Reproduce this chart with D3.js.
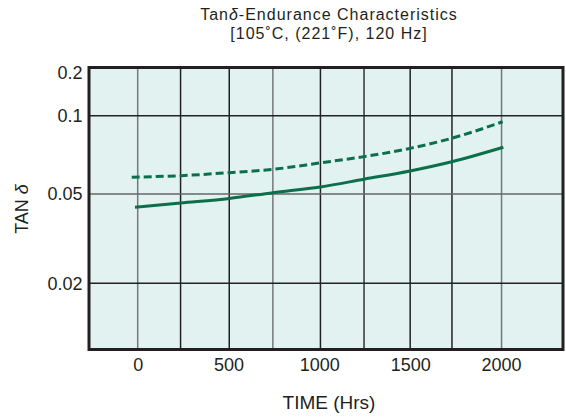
<!DOCTYPE html>
<html>
<head>
<meta charset="utf-8">
<script src="https://cdn.jsdelivr.net/npm/d3@7"></script>
<style>
  body { margin: 0; background: #fff; }
  text { font-family: "Liberation Sans", Arial, sans-serif; fill: #231f20; }
</style>
</head>
<body>
<div id="vis1"></div>
<script>
// ---------- DATA ----------
const timeTicks = [0, 500, 1000, 1500, 2000];
const tanTicks = [0.2, 0.1, 0.05, 0.02];
// grid lines as they sit in the original drawing
const timeGrid = [0, 236, 504, 744, 1006, 1246, 1500, 1730, 2003];
const tanGrid = [0.1, 0.05, 0.02];

// dashed curve (upper)
const dashedTime = [-33, 237, 504, 745, 1007, 1246, 1499, 1729, 2009];
const dashedTan = [0.0580, 0.0588, 0.0604, 0.0622, 0.0659, 0.0696, 0.0749, 0.0819, 0.0948];
// solid curve (lower)
const solidTime = [-15, 237, 504, 745, 1005, 1246, 1499, 1729, 2013];
const solidTan = [0.0436, 0.0456, 0.0478, 0.0506, 0.0532, 0.0570, 0.0613, 0.0665, 0.0756];

// ---------- FRAME ----------
const FRAME_WIDTH = 566;
const FRAME_HEIGHT = 418;
const PLOT = { left: 89, right: 563, top: 67.5, bottom: 349.5 };
const GREEN = "#0b7049";

const svg = d3.select("#vis1")
  .append("svg")
  .attr("width", FRAME_WIDTH)
  .attr("height", FRAME_HEIGHT);

// x is linear, y is a (slightly uneven) log scale as printed
const x = d3.scaleLinear()
  .domain([0, 2000])
  .range([137.7, 501]);

const y = d3.scaleLog()
  .domain([0.2, 0.1, 0.05, 0.02, 0.01])
  .range([72.5, 115.7, 194, 283.3, PLOT.bottom]);

// background
svg.append("rect")
  .attr("x", PLOT.left)
  .attr("y", PLOT.top)
  .attr("width", PLOT.right - PLOT.left)
  .attr("height", PLOT.bottom - PLOT.top)
  .attr("fill", "#e2f2f0");

// grid lines, some printed darker than others
const vGridColor = ["#777", "#222", "#222", "#777", "#222", "#333", "#222", "#222", "#777"];
const hGridColor = ["#222", "#666", "#222"];

svg.append("g")
  .selectAll("line")
  .data(timeGrid)
  .enter()
  .append("line")
    .attr("x1", d => x(d))
    .attr("x2", d => x(d))
    .attr("y1", PLOT.top)
    .attr("y2", PLOT.bottom)
    .attr("stroke", (d, i) => vGridColor[i])
    .attr("stroke-width", 1.5);

svg.append("g")
  .selectAll("line")
  .data(tanGrid)
  .enter()
  .append("line")
    .attr("x1", PLOT.left)
    .attr("x2", PLOT.right)
    .attr("y1", d => y(d))
    .attr("y2", d => y(d))
    .attr("stroke", (d, i) => hGridColor[i])
    .attr("stroke-width", 1.5);

// curves
const line = d3.line()
  .x(d => x(d[0]))
  .y(d => y(d[1]))
  .curve(d3.curveMonotoneX);

svg.append("path")
  .datum(d3.zip(dashedTime, dashedTan))
  .attr("d", line)
  .attr("fill", "none")
  .attr("stroke", GREEN)
  .attr("stroke-width", 3)
  .attr("stroke-dasharray", "8,4");

svg.append("path")
  .datum(d3.zip(solidTime, solidTan))
  .attr("d", line)
  .attr("fill", "none")
  .attr("stroke", GREEN)
  .attr("stroke-width", 3);

// frame border
svg.append("rect")
  .attr("x", PLOT.left)
  .attr("y", PLOT.top)
  .attr("width", PLOT.right - PLOT.left)
  .attr("height", PLOT.bottom - PLOT.top)
  .attr("fill", "none")
  .attr("stroke", "#231f20")
  .attr("stroke-width", 3);

// ---------- AXES ----------
const yAxis = svg.append("g")
  .attr("transform", `translate(${PLOT.left},0)`)
  .call(d3.axisLeft(y).tickValues(tanTicks).tickFormat(d => String(d)).tickSize(0).tickPadding(6.5));
yAxis.select(".domain").remove();
yAxis.selectAll("text")
  .attr("font-size", 18)
  .attr("font-family", "Liberation Sans, Arial, sans-serif")
  .attr("fill", "#231f20");

const xAxis = svg.append("g")
  .attr("transform", `translate(0,${PLOT.bottom})`)
  .call(d3.axisBottom(x).tickValues(timeTicks).tickFormat(d => String(d)).tickSize(0).tickPadding(9));
xAxis.select(".domain").remove();
xAxis.selectAll("text")
  .attr("font-size", 18)
  .attr("font-family", "Liberation Sans, Arial, sans-serif")
  .attr("fill", "#231f20");

// ---------- TITLES ----------
const title = svg.append("text")
  .attr("x", 329)
  .attr("y", 20)
  .attr("text-anchor", "middle")
  .attr("font-size", 16)
  .attr("letter-spacing", 1);
title.append("tspan").text("Tan");
title.append("tspan").attr("font-style", "italic").text("δ");
title.append("tspan").text("-Endurance Characteristics");

svg.append("text")
  .attr("x", 329)
  .attr("y", 38.5)
  .attr("text-anchor", "middle")
  .attr("font-size", 16)
  .attr("letter-spacing", 1)
  .text("[105˚C, (221˚F), 120 Hz]");

svg.append("text")
  .attr("x", 329)
  .attr("y", 409)
  .attr("text-anchor", "middle")
  .attr("font-size", 19)
  .text("TIME (Hrs)");

const yLabel = svg.append("text")
  .attr("transform", "translate(28,209) rotate(-90)")
  .attr("text-anchor", "middle")
  .attr("font-size", 18);
yLabel.append("tspan").text("TAN ");
yLabel.append("tspan").attr("font-style", "italic").text("δ");
</script>
</body>
</html>
